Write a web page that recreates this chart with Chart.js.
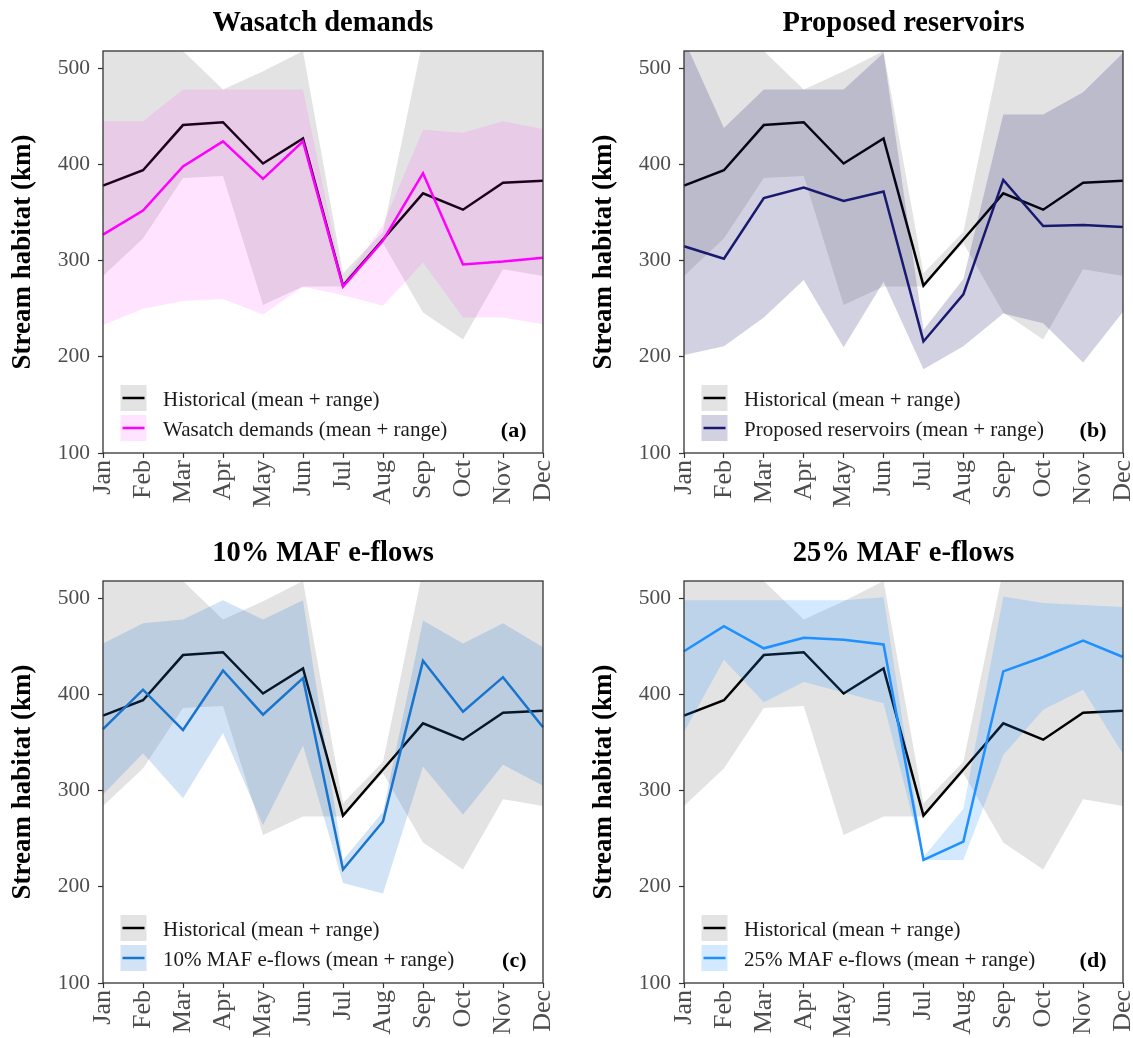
<!DOCTYPE html>
<html>
<head>
<meta charset="utf-8">
<script src="https://cdn.jsdelivr.net/npm/chart.js@4.4.1/dist/chart.umd.min.js"></script>
<style>
  html, body { margin: 0; padding: 0; background: #fff; overflow: hidden; }
  canvas { position: absolute; }
</style>
</head>
<body>
<canvas id="panelA" width="566" height="530" style="left:0;top:0"></canvas>
<canvas id="panelB" width="552" height="530" style="left:581px;top:0"></canvas>
<canvas id="panelC" width="566" height="508" style="left:0;top:530px"></canvas>
<canvas id="panelD" width="552" height="508" style="left:581px;top:530px"></canvas>
<script>
const MONTHS = ["Jan", "Feb", "Mar", "Apr", "May", "Jun", "Jul", "Aug", "Sep", "Oct", "Nov", "Dec"];
const Y_TICKS = [100, 200, 300, 400, 500];

// historical (same in every panel)
const histMean = [378, 394, 441, 444, 401, 427, 274, 322, 370, 353, 381, 383];
const histMin = [284, 323, 386, 388, 254, 273, 273, 318, 246, 218, 291, 284];
const histMax = [530, 530, 518, 478, 497, 518, 287, 330, 530, 530, 530, 530];

const wasatchMean = [327, 352, 398, 424, 385, 424, 273, 321, 391, 296, 299, 303];
const wasatchMin = [233, 250, 258, 260, 244, 273, 264, 253, 298, 241, 241, 234];
const wasatchMax = [445, 445, 478, 478, 478, 478, 277, 337, 436, 433, 445, 437];

const reservoirMean = [315, 302, 365, 376, 362, 372, 216, 265, 384, 336, 337, 335];
const reservoirMin = [202, 211, 241, 280, 210, 278, 187, 211, 245, 235, 194, 247];
const reservoirMax = [530, 438, 478, 478, 478, 516, 228, 281, 452, 452, 475, 516];

const maf10Mean = [364, 405, 363, 425, 379, 417, 218, 268, 435, 382, 418, 366];
const maf10Min = [296, 339, 292, 360, 264, 347, 204, 193, 325, 275, 327, 305];
const maf10Max = [453, 474, 478, 498, 478, 498, 228, 278, 477, 453, 474, 449];

const maf25Mean = [445, 471, 448, 459, 457, 452, 228, 247, 424, 439, 456, 439];
const maf25Min = [361, 436, 392, 413, 402, 391, 228, 228, 337, 384, 405, 338];
const maf25Max = [498, 498, 498, 498, 498, 501, 231, 281, 502, 495, 493, 491];

const SERIF = '"Liberation Serif", "Times New Roman", serif';
const HIST_FILL = "rgba(0,0,0,0.11)";
const PLOT_LEFT = 103;
const PLOT_TOP = 51;
const PLOT_BOTTOM = 453;

function framePlugin(title, letter, scenLabel, scenColor, scenFill) {
  return {
    id: "frame",
    afterDraw(chart) {
      const { ctx, chartArea: area } = chart;
      ctx.save();

      ctx.strokeStyle = "#333";
      ctx.lineWidth = 1.3;
      ctx.strokeRect(area.left, area.top, area.right - area.left, area.bottom - area.top);

      ctx.fillStyle = "#000";
      ctx.font = "bold 28.5px " + SERIF;
      ctx.textAlign = "center";
      ctx.textBaseline = "alphabetic";
      ctx.fillText(title, (area.left + area.right) / 2, 31);

      // legend
      const x0 = area.left + 17.5;
      const rows = [
        { top: area.bottom - 68, fill: HIST_FILL, line: "#000", text: "Historical (mean + range)" },
        { top: area.bottom - 38, fill: scenFill, line: scenColor, text: scenLabel }
      ];
      ctx.font = "21px " + SERIF;
      ctx.textAlign = "left";
      rows.forEach((row) => {
        ctx.fillStyle = row.fill;
        ctx.fillRect(x0, row.top, 26, 26);
        ctx.strokeStyle = row.line;
        ctx.lineWidth = 2.5;
        ctx.beginPath();
        ctx.moveTo(x0 + 2, row.top + 13);
        ctx.lineTo(x0 + 24, row.top + 13);
        ctx.stroke();
        ctx.fillStyle = "#1a1a1a";
        ctx.fillText(row.text, area.left + 60, row.top + 20.5);
      });

      ctx.font = "bold 22px " + SERIF;
      ctx.textAlign = "right";
      ctx.fillStyle = "#000";
      ctx.fillText(letter, area.right - 16.5, area.bottom - 16.5);
      ctx.restore();
    }
  };
}

function band(data, color, fill, order) {
  return { data, borderWidth: 0, pointRadius: 0, backgroundColor: color, fill, order };
}

function meanLine(data, color, order) {
  return { data, borderColor: color, borderWidth: 2.5, pointRadius: 0, fill: false, tension: 0, order };
}

function buildPanel(canvasId, title, letter, scenLabel, scenColor, scenFill, scenMean, scenMin, scenMax, plotRight) {
  const canvas = document.getElementById(canvasId);
  const tickGrid = {
    display: true, drawOnChartArea: false, drawTicks: true,
    tickLength: 5, color: "#333", tickWidth: 1.2
  };
  return new Chart(canvas.getContext("2d"), {
    type: "line",
    data: {
      labels: MONTHS,
      datasets: [
        band(histMax, HIST_FILL, "+1", 4),
        band(histMin, HIST_FILL, false, 5),
        band(scenMax, scenFill, "+1", 2),
        band(scenMin, scenFill, false, 2),
        meanLine(histMean, "#000", 3),
        meanLine(scenMean, scenColor, 0)
      ]
    },
    options: {
      responsive: false,
      animation: false,
      layout: { padding: { left: 0, top: PLOT_TOP, right: canvas.width - plotRight, bottom: 0 } },
      plugins: { legend: { display: false }, tooltip: { enabled: false }, title: { display: false } },
      scales: {
        x: {
          grid: tickGrid,
          border: { display: false },
          ticks: {
            autoSkip: false, minRotation: 90, maxRotation: 90, padding: 2,
            color: "#4d4d4d", font: { family: SERIF, size: 26 }
          },
          afterFit: (scale) => {
            scale.height = scale.chart.height - PLOT_BOTTOM;
            scale.paddingLeft = 0;
            scale.paddingRight = 0;
          }
        },
        y: {
          min: 100,
          max: 518,
          grid: tickGrid,
          border: { display: false },
          afterBuildTicks: (scale) => {
            scale.ticks = Y_TICKS.map((value) => ({ value }));
          },
          ticks: {
            padding: 8,
            color: "#4d4d4d", font: { family: SERIF, size: 21.5 }
          },
          title: {
            display: true, text: "Stream habitat (km)", color: "#000",
            font: { family: SERIF, size: 27, weight: "bold" },
            padding: { top: 7, bottom: 0 }
          },
          afterFit: (scale) => {
            scale.width = PLOT_LEFT;
            scale.paddingTop = 0;
            scale.paddingBottom = 0;
          }
        }
      }
    },
    plugins: [framePlugin(title, letter, scenLabel, scenColor, scenFill)]
  });
}

buildPanel("panelA", "Wasatch demands", "(a)", "Wasatch demands (mean + range)",
  "#ff00ff", "rgba(255,0,255,0.11)", wasatchMean, wasatchMin, wasatchMax, 543);
buildPanel("panelB", "Proposed reservoirs", "(b)", "Proposed reservoirs (mean + range)",
  "#191970", "rgba(25,25,112,0.2)", reservoirMean, reservoirMin, reservoirMax, 542);
buildPanel("panelC", "10% MAF e-flows", "(c)", "10% MAF e-flows (mean + range)",
  "#1874cd", "rgba(24,116,205,0.2)", maf10Mean, maf10Min, maf10Max, 543);
buildPanel("panelD", "25% MAF e-flows", "(d)", "25% MAF e-flows (mean + range)",
  "#1e90ff", "rgba(30,144,255,0.2)", maf25Mean, maf25Min, maf25Max, 542);
</script>
</body>
</html>
